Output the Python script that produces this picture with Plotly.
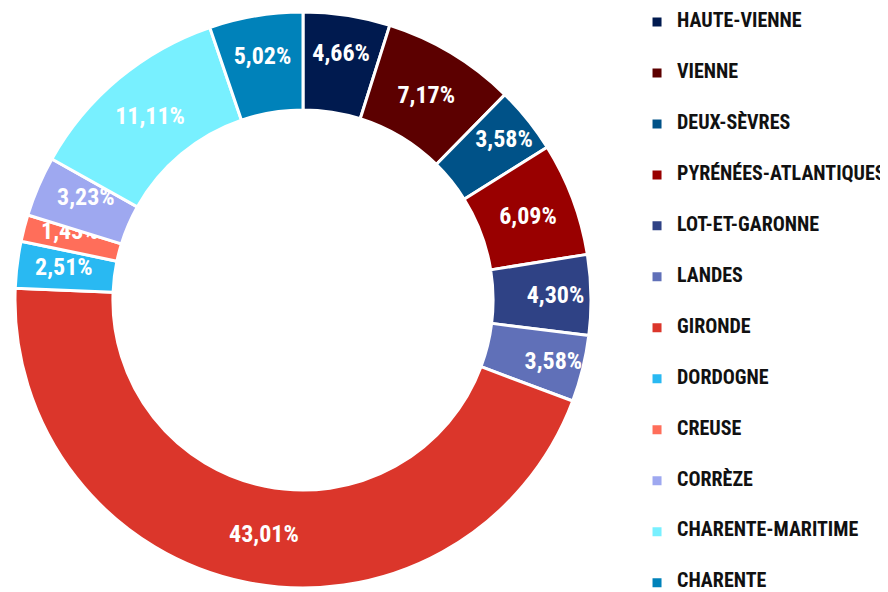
import plotly.graph_objects as go

labels = ["HAUTE-VIENNE", "VIENNE", "DEUX-SÈVRES", "PYRÉNÉES-ATLANTIQUES", "LOT-ET-GARONNE",
          "LANDES", "GIRONDE", "DORDOGNE", "CREUSE", "CORRÈZE", "CHARENTE-MARITIME", "CHARENTE"]
values = [4.66, 7.17, 3.58, 6.09, 4.30, 3.58, 43.01, 2.51, 1.43, 3.23, 11.11, 5.02]
colors = ["#001A4F", "#5C0000", "#005288", "#990000", "#2F4285", "#6070B8",
          "#DB362B", "#29B9F2", "#FF6E5A", "#9EA8F0", "#78F0FF", "#0082BA"]

# styling only: leading non-breaking spaces to nudge some labels inward
label_pad = [0, 0, 0, 0, 0, 0, 3, 9, 12, 8, 0, 0]

FONT = "Roboto Condensed, Open Sans Condensed, sans-serif"
SPAN = "font-family:Roboto Condensed;font-weight:700"

legend_names = [" <br><span style='%s;font-size:20px'>%s</span><br> " % (SPAN, l) for l in labels]
templates = ["<span style='%s'>%s%%{value:.2f}%%</span>" % (SPAN, "\u00a0" * p) for p in label_pad]

fig = go.Figure(go.Pie(
    labels=legend_names,
    values=values,
    hole=0.66,
    sort=False,
    direction="clockwise",
    rotation=0,
    marker=dict(colors=colors, line=dict(color="white", width=3)),
    texttemplate=templates,
    textposition="inside",
    insidetextorientation="horizontal",
    insidetextfont=dict(color="white", size=24, family=FONT),
    hoverinfo="none",
))

fig.update_layout(
    width=880, height=584,
    separators=", ",
    paper_bgcolor="white",
    plot_bgcolor="white",
    margin=dict(l=7, r=297, t=4, b=4, autoexpand=False),
    showlegend=True,
    uniformtext=dict(minsize=24, mode="show"),
    legend=dict(
        x=1.0799, xanchor="left",
        y=1.0356, yanchor="top",
        font=dict(family=FONT, size=12.3, color="#111111"),
        bgcolor="rgba(0,0,0,0)",
        maxheight=1000,
    ),
)

fig.write_html("out.html")
